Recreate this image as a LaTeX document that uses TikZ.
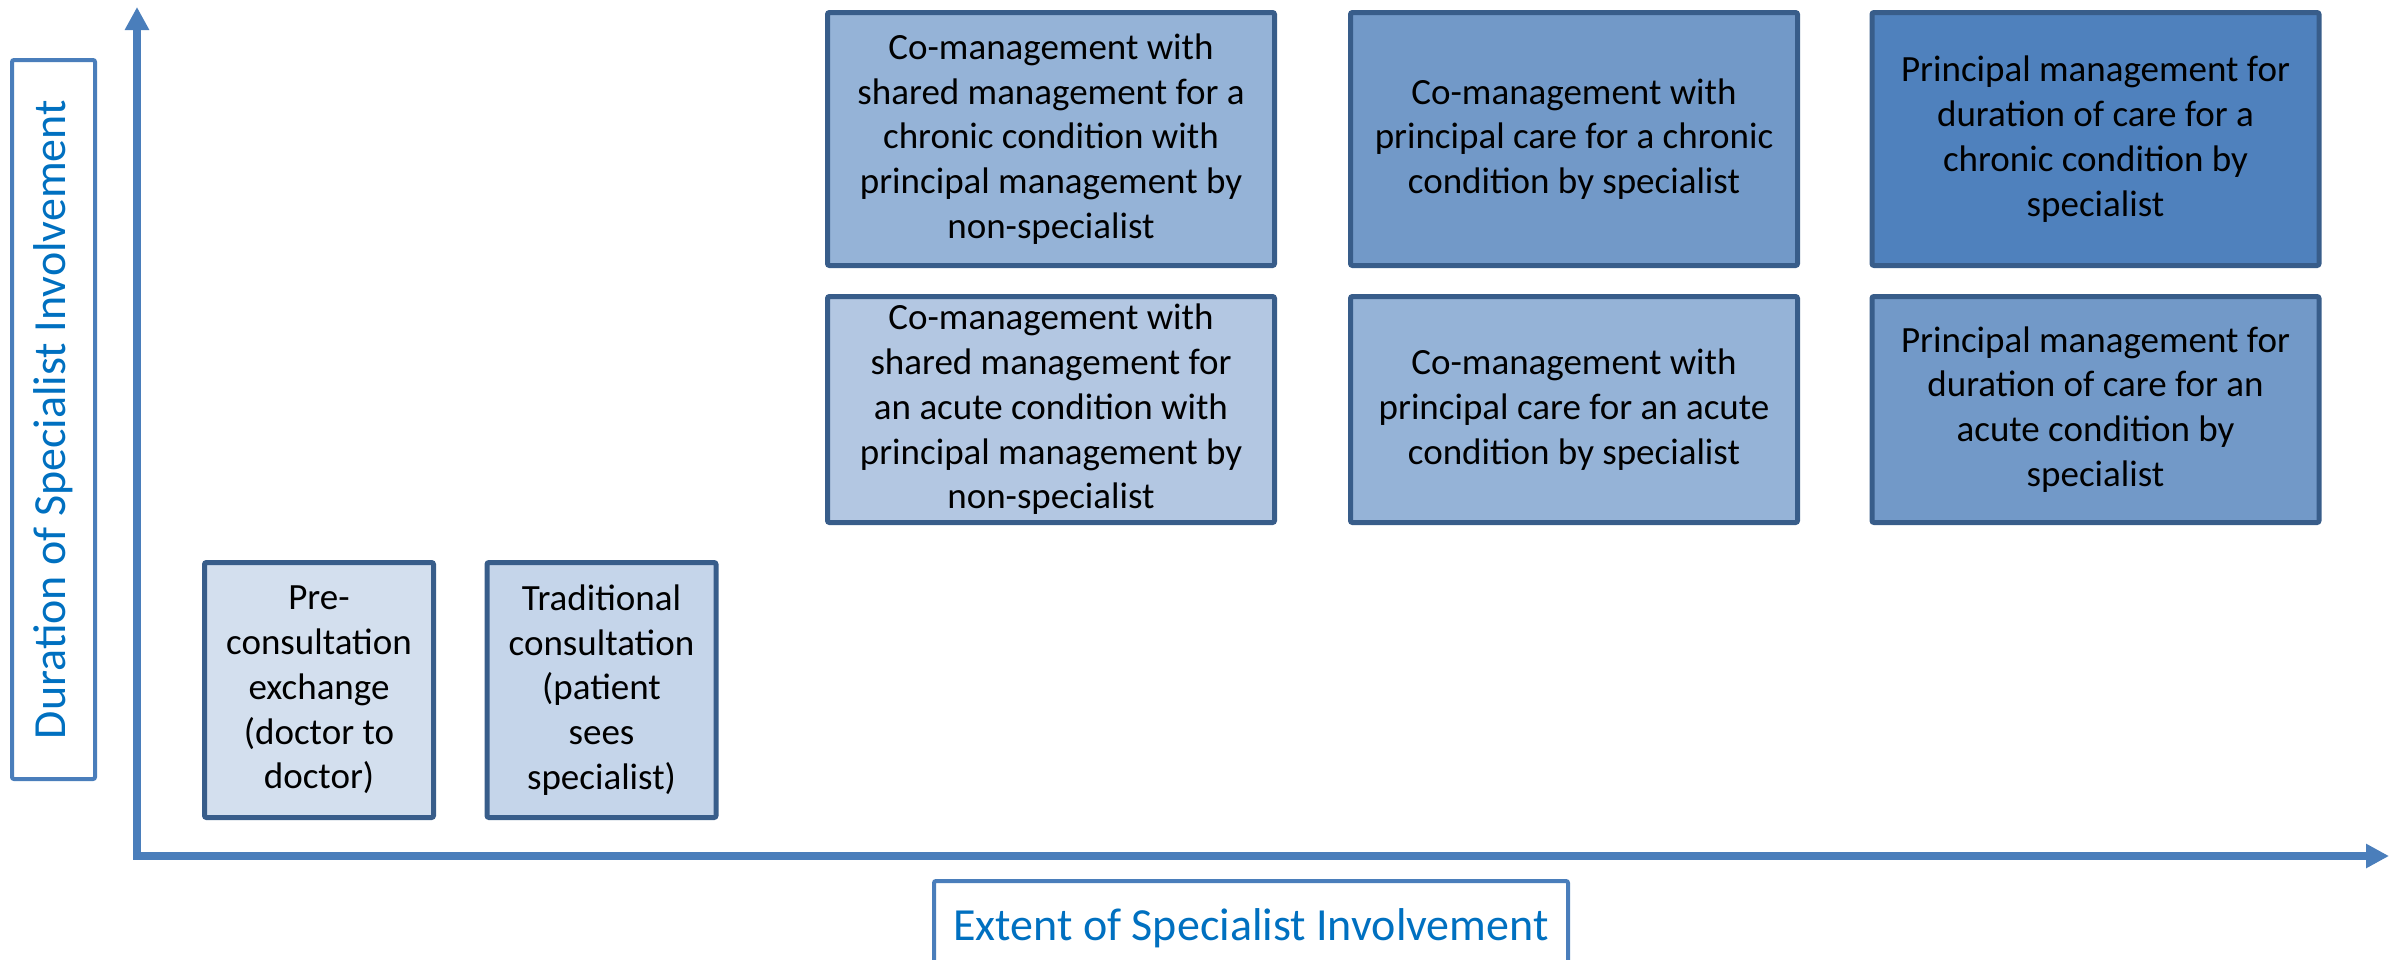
\documentclass[tikz,border=0pt]{standalone}
\usepackage{fontspec}
\setmainfont{Carlito}
\usetikzlibrary{arrows.meta}
\definecolor{axisblue}{HTML}{4A7EBB}
\definecolor{labelblue}{HTML}{0070C0}
\definecolor{boxedge}{HTML}{385D8A}
\definecolor{fillC}{HTML}{4F81BD}
\definecolor{fillB}{HTML}{7299C8}
\definecolor{fillA}{HTML}{95B3D7}
\definecolor{fillD}{HTML}{B3C7E2}
\definecolor{fillH}{HTML}{C5D5EA}
\definecolor{fillG}{HTML}{D3DFEE}
\begin{document}
\begin{tikzpicture}[x=0.5pt,y=-0.5pt,
  cell/.style={draw=boxedge, line width=2.5pt, rounded corners=1pt, align=center,
    font=\fontsize{18.5}{22.4}\selectfont, text=black, inner sep=0pt},
  bigcell/.style={cell, minimum width=223.5pt, minimum height=126.5pt},
  midcell/.style={cell, minimum width=223.5pt, minimum height=113pt},
  smallcell/.style={cell, minimum width=114.5pt, minimum height=127.5pt},
  axislabel/.style={draw=axisblue, line width=2pt, rounded corners=1pt, text=labelblue,
    font=\fontsize{23}{28}\selectfont, inner sep=0pt},
  axis/.style={draw=axisblue, line width=4pt, line join=miter,
    -{Triangle[length=11.5pt,width=11.5pt]}}
]
\useasboundingbox (0,0) rectangle (2394,959);

% axes
\coordinate (origin) at (137,856);
\coordinate (ytip) at (137,7);
\coordinate (xtip) at (2389,856);
\draw[axis] (origin) -- (ytip);
\draw[axis] (origin) -- (xtip);
\fill[axisblue] (133,852) rectangle (141,860);

% axis labels
\node[axislabel, rotate=90, minimum width=359.5pt, minimum height=41.5pt] (ylab) at (53.5,419.5)
  {Duration of Specialist Involvement};
\node[axislabel, minimum width=317pt, minimum height=47pt] (xlab) at (1251,928)
  {Extent of Specialist Involvement};

% top row
\node[bigcell, fill=fillA] (A) at (1051,139)
  {Co-management with\\shared management for a\\chronic condition with\\principal management by\\non-specialist};
\node[bigcell, fill=fillB] (B) at (1574,139)
  {Co-management with\\principal care for a chronic\\condition by specialist};
\node[bigcell, fill=fillC] (C) at (2095.5,139)
  {Principal management for\\duration of care for a\\chronic condition by\\specialist};

% middle row
\node[midcell, fill=fillD] (D) at (1051,409.5)
  {Co-management with\\shared management for\\an acute condition with\\principal management by\\non-specialist};
\node[midcell, fill=fillA] (E) at (1574,409.5)
  {Co-management with\\principal care for an acute\\condition by specialist};
\node[midcell, fill=fillB] (F) at (2095.5,409.5)
  {Principal management for\\duration of care for an\\acute condition by\\specialist};

% bottom row
\node[smallcell, fill=fillG] (G) at (319,690)
  {Pre-\\consultation\\exchange\\(doctor to\\doctor)};
\node[smallcell, fill=fillH] (H) at (601.5,690)
  {Traditional\\consultation\\(patient\\sees\\specialist)};
\end{tikzpicture}
\end{document}
